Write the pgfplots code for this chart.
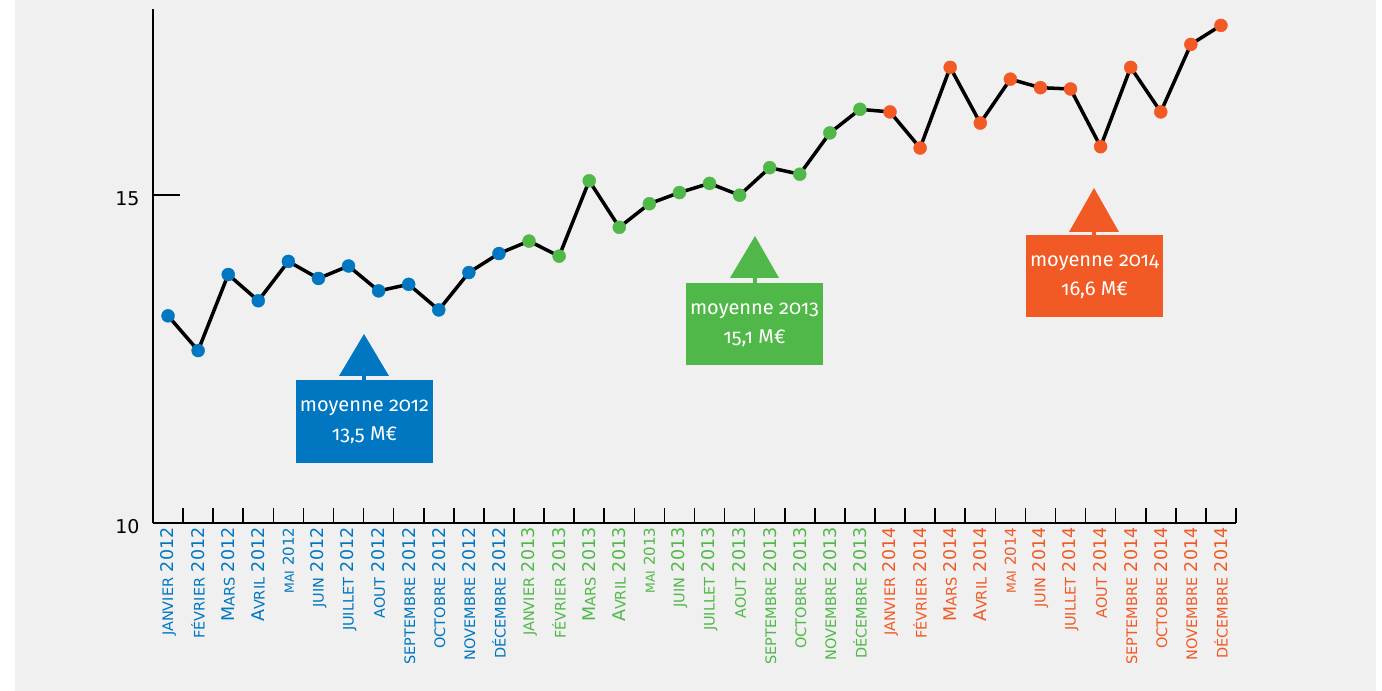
\documentclass[border=0pt]{standalone}
\usepackage{pgfplots}
\pgfplotsset{compat=1.18}
\usepackage{pgfplotstable}
\usepackage{fontspec}
\setmainfont{DejaVu Sans}
\newfontfamily\boxfont[Numbers=OldStyle]{Fira Sans}
\definecolor{cblue}{RGB}{0,119,192}
\definecolor{cgreen}{RGB}{80,184,72}
\definecolor{corange}{RGB}{241,90,36}
\definecolor{bg}{RGB}{240,240,240}
\newcommand{\sk}[1]{{\fontsize{14.5}{15}\selectfont #1}}
\newcommand{\skm}[1]{{\fontsize{12.5}{13}\selectfont #1}}
\newcommand{\mai}[1]{{\fontsize{15}{15}\selectfont\skm{MAI} #1}}

\pgfplotstableread{
x y
0 13.16
1 12.63
2 13.79
3 13.39
4 13.99
5 13.73
6 13.92
7 13.54
8 13.64
9 13.25
10 13.82
11 14.11
12 14.30
13 14.07
14 15.22
15 14.51
16 14.87
17 15.04
18 15.18
19 15.00
20 15.42
21 15.32
22 15.95
23 16.31
24 16.27
25 15.72
26 16.95
27 16.10
28 16.77
29 16.64
30 16.62
31 15.74
32 16.95
33 16.27
34 17.30
35 17.59
}\data

\begin{document}
\begin{tikzpicture}[x=1pt,y=1pt]
\path[use as bounding box] (0,0) rectangle (1382,691);
\fill[white] (0,0) rectangle (1382,691);
\fill[bg] (15,0) rectangle (1376,691);
\begin{axis}[
  at={(153pt,168pt)}, anchor=south west,
  scale only axis, width=1083pt, height=514pt,
  xmin=-0.5, xmax=35.5, ymin=10, ymax=17.84,
  axis lines*=left,
  axis line style={line width=1.6pt, black},
  tick align=inside,
  xtick={0,...,35},
  minor xtick={0.5,1.5,...,35.5},
  major x tick style={draw=none},
  tick style={line width=1.6pt, black},
  major tick length=27pt, minor tick length=15pt,
  ytick={10,15}, yticklabels={10,15},
  yticklabel style={font=\fontsize{19}{19}\selectfont, xshift=-10pt, yshift=-4pt},
  xticklabel style={rotate=90, anchor=east, font=\fontsize{17.5}{17.5}\selectfont, xshift=-1pt},
  xticklabels={
    {\color{cblue}\sk{JANVIER} 2012},
    {\color{cblue}\sk{FÉVRIER} 2012},
    {\color{cblue}M\sk{ARS} 2012},
    {\color{cblue}A\sk{VRIL} 2012},
    {\color{cblue}\mai{2012}},
    {\color{cblue}\sk{JUIN} 2012},
    {\color{cblue}\sk{JUILLET} 2012},
    {\color{cblue}\sk{AOUT} 2012},
    {\color{cblue}\sk{SEPTEMBRE} 2012},
    {\color{cblue}\sk{OCTOBRE} 2012},
    {\color{cblue}\sk{NOVEMBRE} 2012},
    {\color{cblue}\sk{DÉCEMBRE} 2012},
    {\color{cgreen}\sk{JANVIER} 2013},
    {\color{cgreen}\sk{FÉVRIER} 2013},
    {\color{cgreen}M\sk{ARS} 2013},
    {\color{cgreen}A\sk{VRIL} 2013},
    {\color{cgreen}\mai{2013}},
    {\color{cgreen}\sk{JUIN} 2013},
    {\color{cgreen}\sk{JUILLET} 2013},
    {\color{cgreen}\sk{AOUT} 2013},
    {\color{cgreen}\sk{SEPTEMBRE} 2013},
    {\color{cgreen}\sk{OCTOBRE} 2013},
    {\color{cgreen}\sk{NOVEMBRE} 2013},
    {\color{cgreen}\sk{DÉCEMBRE} 2013},
    {\color{corange}\sk{JANVIER} 2014},
    {\color{corange}\sk{FÉVRIER} 2014},
    {\color{corange}M\sk{ARS} 2014},
    {\color{corange}A\sk{VRIL} 2014},
    {\color{corange}\mai{2014}},
    {\color{corange}\sk{JUIN} 2014},
    {\color{corange}\sk{JUILLET} 2014},
    {\color{corange}\sk{AOUT} 2014},
    {\color{corange}\sk{SEPTEMBRE} 2014},
    {\color{corange}\sk{OCTOBRE} 2014},
    {\color{corange}\sk{NOVEMBRE} 2014},
    {\color{corange}\sk{DÉCEMBRE} 2014}
  },
  clip=false,
]
\addplot[black, line width=3.5pt, line join=round, no marks] table {\data};
\addplot[only marks, mark=*, mark size=6.5pt, cblue, restrict x to domain=0:11] table {\data};
\addplot[only marks, mark=*, mark size=6.5pt, cgreen, restrict x to domain=12:23] table {\data};
\addplot[only marks, mark=*, mark size=6.5pt, corange, restrict x to domain=24:35] table {\data};
\end{axis}
% annotations
\fill[cblue] (364,357) -- (339,315) -- (389,315) -- cycle;
\fill[cblue] (362,309) rectangle (366,316);
\fill[cblue] (296,228) rectangle (433,311);
\node[white, align=center, font=\boxfont\fontsize{20}{29}\selectfont] at (364.5,269) {moyenne 2012\\13,5 M€};
\fill[cgreen] (755,455) -- (730,413) -- (779,413) -- cycle;
\fill[cgreen] (753,406) rectangle (757,414);
\fill[cgreen] (686,326) rectangle (823,408);
\node[white, align=center, font=\boxfont\fontsize{20}{29}\selectfont] at (754.5,366.5) {moyenne 2013\\15,1 M€};
\fill[corange] (1094,503) -- (1069,459) -- (1119,459) -- cycle;
\fill[corange] (1092,454) rectangle (1096,460);
\fill[corange] (1026,374) rectangle (1163,456);
\node[white, align=center, font=\boxfont\fontsize{20}{29}\selectfont] at (1094.5,414) {moyenne 2014\\16,6 M€};
\end{tikzpicture}
\end{document}
